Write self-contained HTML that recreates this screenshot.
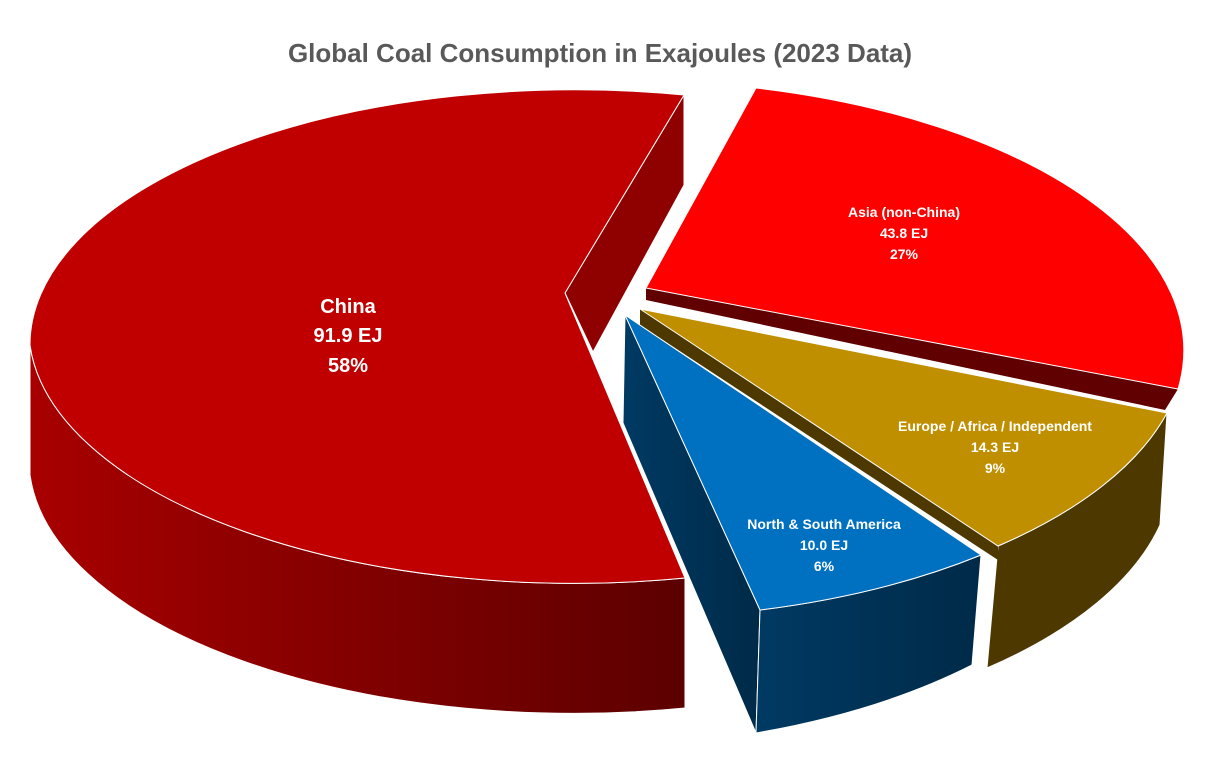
<!DOCTYPE html>
<html><head><style>
body{margin:0;background:#fff;}
svg{display:block;font-family:"Liberation Sans",sans-serif;}
</style></head><body>
<svg width="1212" height="769" viewBox="0 0 1212 769">
<defs>
<linearGradient id="cs" x1="0" x2="1" y1="0" y2="0"><stop offset="0" stop-color="#a80000"/><stop offset="1" stop-color="#5c0000"/></linearGradient>
<linearGradient id="bs" x1="0" x2="1"><stop offset="0" stop-color="#003a63"/><stop offset="1" stop-color="#002a48"/></linearGradient>
</defs>
<text x="600" y="62" text-anchor="middle" font-size="26" font-weight="bold" fill="#595959">Global Coal Consumption in Exajoules (2023 Data)</text>
<!-- China -->
<path d="M30,345 A545 255 0 0 0 685,578 L685,708 A545 255 0 0 1 30,475 Z" fill="url(#cs)" stroke="#fff" stroke-width="1"/>
<path d="M684,95 L684,185 L593,352 L565,293 Z" fill="#8f0000" stroke="#fff" stroke-width="1"/>
<path d="M684,95 A545 255 0 0 0 30,345 A545 255 0 0 0 685,578 L565,293 Z" fill="#c00000" stroke="#fff" stroke-width="1"/>
<!-- Asia -->
<path d="M646,288 L1178,389 L1165,410 L646,300 Z" fill="#600000"/>
<path d="M646,288 L756,88 A560 270 0 0 1 1178,389 Z" fill="#ff0000" stroke="#fff" stroke-width="1"/>
<!-- Europe -->
<path d="M998,546 A560 270 0 0 0 1167,413 L1160,525 A560 270 0 0 1 987,668 Z" fill="#4d3800" stroke="#fff" stroke-width="1"/>
<path d="M640,309 L998,546 L998,560 L640,325 Z" fill="#4d3800"/>
<path d="M640,309 L1167,413 A560 270 0 0 1 998,546 Z" fill="#bf8f00" stroke="#fff" stroke-width="1"/>
<!-- America -->
<path d="M625,315 L760,610 L756,733 L623,423 Z" fill="url(#bs)" stroke="#fff" stroke-width="1"/>
<path d="M760,610 A560 270 0 0 0 981,555 L972,665 A560 270 0 0 1 756,733 Z" fill="url(#bs)" stroke="#fff" stroke-width="1"/>
<path d="M625,315 L981,555 A560 270 0 0 1 760,610 Z" fill="#0070c0" stroke="#fff" stroke-width="1"/>
<g fill="#fff" font-weight="bold" text-anchor="middle">
<text x="348" y="313" font-size="20">China</text>
<text x="348" y="342" font-size="20">91.9 EJ</text>
<text x="348" y="372" font-size="20">58%</text>
<text x="904" y="217" font-size="14">Asia (non-China)</text>
<text x="904" y="238" font-size="14">43.8 EJ</text>
<text x="904" y="259" font-size="14">27%</text>
<text x="995" y="431" font-size="14">Europe / Africa / Independent</text>
<text x="995" y="452" font-size="14">14.3 EJ</text>
<text x="995" y="473" font-size="14">9%</text>
<text x="824" y="529" font-size="14">North &amp; South America</text>
<text x="824" y="550" font-size="14">10.0 EJ</text>
<text x="824" y="571" font-size="14">6%</text>
</g>
</svg>
</body></html>
